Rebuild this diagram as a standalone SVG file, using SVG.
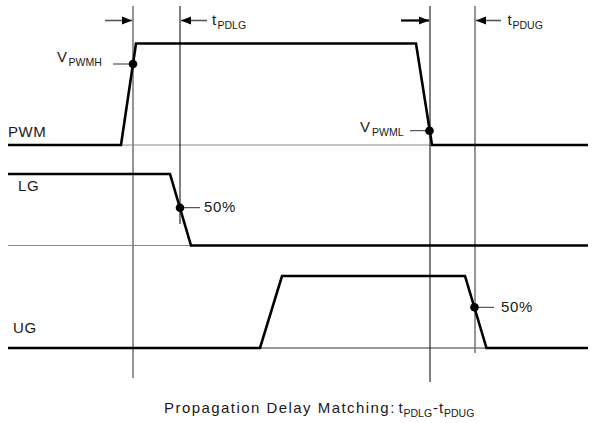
<svg xmlns="http://www.w3.org/2000/svg" width="594" height="423" viewBox="0 0 594 423">
<defs>
<style>
.t{font-family:"Liberation Sans",Arial,sans-serif;fill:#1a1a1a;font-size:15px;letter-spacing:0.6px}
.s{font-family:"Liberation Sans",Arial,sans-serif;fill:#1a1a1a;font-size:10.5px}
.cap{font-family:"Liberation Sans",Arial,sans-serif;fill:#1a1a1a;font-size:15px;letter-spacing:1.45px}
.ref{stroke:#8a8a8a;stroke-width:1;fill:none}
.wave{stroke:#000;stroke-width:2.6;fill:none;stroke-linejoin:miter}
.vg{stroke:#7a7a7a;stroke-width:1.6;fill:none}
.vb{stroke:#000;stroke-width:1;fill:none}
.lead{stroke:#333;stroke-width:1;fill:none}
.arr{stroke:#555;stroke-width:1.6;fill:none}
</style>
<marker id="ah" viewBox="0 0 10 10" refX="10" refY="5" markerWidth="10" markerHeight="10" markerUnits="userSpaceOnUse" orient="auto">
<path d="M0,1 L10,5 L0,9 Z" fill="#000"/>
</marker>
</defs>

<g id="connectors">
<line class="ref" x1="121" y1="145" x2="432" y2="145"/>
<line class="ref" x1="8" y1="245.5" x2="191" y2="245.5"/>
<line x1="260" y1="348" x2="486" y2="348" stroke="#333" stroke-width="1"/>
<line class="vg" x1="133" y1="6" x2="133" y2="378"/>
<line class="vb" x1="180" y1="6" x2="180" y2="224"/>
<line class="vb" x1="430" y1="6" x2="430" y2="382"/>
<line class="vg" x1="475" y1="6" x2="475" y2="353"/>
<line class="arr" x1="105" y1="20.5" x2="132" y2="20.5" marker-end="url(#ah)"/>
<line class="arr" x1="207" y1="20.5" x2="181" y2="20.5" marker-end="url(#ah)"/>
<line x1="401" y1="20.5" x2="429" y2="20.5" stroke="#000" stroke-width="2.2" marker-end="url(#ah)"/>
<line class="arr" x1="501" y1="20.5" x2="476" y2="20.5" marker-end="url(#ah)"/>
<line class="lead" x1="113" y1="64" x2="129" y2="64"/>
<line class="lead" x1="410" y1="130.7" x2="426" y2="130.7"/>
<line class="lead" x1="184" y1="207.7" x2="200" y2="207.7"/>
<line class="lead" x1="478" y1="307.3" x2="494" y2="307.3"/>
</g>

<g id="pwm">
<polyline class="wave" points="8,145 121,145 136,43.5 416,43.5 432,145 588,145"/>
<text class="t" x="8" y="137">PWM</text>
</g>

<g id="lg">
<polyline class="wave" points="8,174 170,174 191,245.5 588,245.5"/>
<text class="t" x="18" y="191">LG</text>
</g>

<g id="ug">
<polyline class="wave" points="8,348 260,348 282,276 465,276 486.5,348 588,348"/>
<text class="t" x="13" y="333">UG</text>
</g>

<g id="vpwmh">
<circle cx="133" cy="64" r="4.3" fill="#000"/>
<text class="t" x="57" y="62">V</text>
<text class="s" x="68.5" y="65.7">PWMH</text>
</g>

<g id="vpwml">
<circle cx="429.5" cy="130.7" r="4.3" fill="#000"/>
<text class="t" x="360" y="132.3">V</text>
<text class="s" x="372" y="136">PWML</text>
</g>

<g id="lg50">
<circle cx="180" cy="207.7" r="4.3" fill="#000"/>
<text class="t" x="204" y="212.3">50%</text>
</g>

<g id="ug50">
<circle cx="474.5" cy="307.3" r="4.3" fill="#000"/>
<text class="t" x="501" y="312.3">50%</text>
</g>

<g id="tpdlg">
<text class="t" x="212" y="25">t</text>
<text class="s" x="217.5" y="28.5">PDLG</text>
</g>

<g id="tpdug">
<text class="t" x="507.5" y="25">t</text>
<text class="s" x="512.5" y="28.5">PDUG</text>
</g>

<g id="caption">
<text class="cap" x="164" y="413">Propagation Delay Matching:</text>
<text class="t" x="398.5" y="413">t</text>
<text class="s" x="403.5" y="416.5">PDLG</text>
<text class="t" x="433" y="413">-</text>
<text class="t" x="439" y="413">t</text>
<text class="s" x="444" y="416.5">PDUG</text>
</g>
</svg>
